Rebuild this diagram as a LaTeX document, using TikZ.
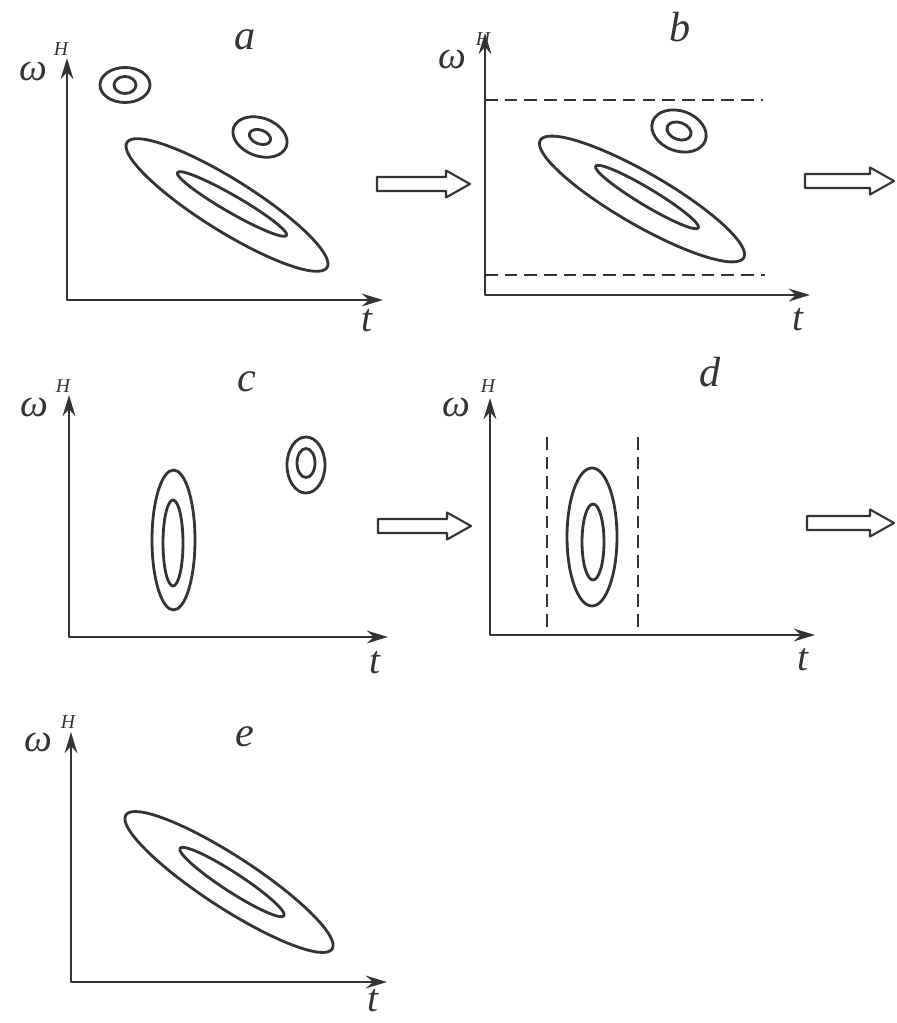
\documentclass[tikz,border=0pt]{standalone}
\usepackage{fontspec}
\setmainfont{Liberation Serif}
\usetikzlibrary{arrows.meta}
\definecolor{ink}{RGB}{52,52,52}

\begin{document}
\begin{tikzpicture}[x=0.025cm, y=-0.025cm, line join=round,
    axes/.style={draw=ink, line width=2pt, {Stealth[length=15pt, width=9pt, inset=5pt]}-{Stealth[length=15pt, width=9pt, inset=5pt]}},
    contour/.style={draw=ink, line width=2pt},
    cutline/.style={draw=ink, line width=1.3pt, dash pattern=on 9pt off 5pt},
    hollow/.style={draw=ink, line width=1.5pt, fill=white},
    paneltag/.style={font=\fontsize{30}{32}\selectfont\itshape, text=ink},
    sym/.style={font=\fontsize{28}{30}\selectfont\itshape, text=ink},
    supr/.style={font=\fontsize{14}{16}\selectfont\itshape, text=ink}]
  \useasboundingbox (0,0) rectangle (896,1023);

  \draw[axes] (67,58) -- (67,300) -- (383,300);
  \node[sym] (wa) at (33,71) {ω};
  \node[supr] (ha) at (61,49) {H};
  \node[sym] (ta) at (367,321) {t};
  \node[paneltag] (la) at (245,40) {a};
  \draw[contour] (125,85) ellipse [x radius=25, y radius=17.5];
  \draw[contour] (125,85) ellipse [x radius=11, y radius=8.5];
  \draw[contour, rotate around={-20:(260,137)}] (260,137) ellipse [x radius=28, y radius=19];
  \draw[contour, rotate around={-20:(260,137)}] (260,137) ellipse [x radius=11, y radius=7];
  \draw[contour, rotate around={-32:(227,205)}] (227,205) ellipse [x radius=118, y radius=26];
  \draw[contour, rotate around={-30:(232,204)}] (232,204) ellipse [x radius=63, y radius=8.5];

  \draw[axes] (485,33) -- (485,295) -- (810,295);
  \node[sym] (wb) at (452,59) {ω};
  \node[supr] (hb) at (483,39) {H};
  \node[sym] (tb) at (798,320) {t};
  \node[paneltag] (lb) at (680,27) {b};
  \draw[cutline] (485,100) -- (763,100);
  \draw[cutline] (485,275) -- (765,275);
  \draw[contour, rotate around={-20:(679,131)}] (679,131) ellipse [x radius=28, y radius=20];
  \draw[contour, rotate around={-20:(679,131)}] (679,131) ellipse [x radius=12.5, y radius=8.5];
  \draw[contour, rotate around={-30:(642,199)}] (642,199) ellipse [x radius=117.5, y radius=26];
  \draw[contour, rotate around={-31:(647,197)}] (647,197) ellipse [x radius=60, y radius=8.5];

  \draw[axes] (69,395) -- (69,637) -- (388,637);
  \node[sym] (wc) at (34,407) {ω};
  \node[supr] (hc) at (63,386) {H};
  \node[sym] (tc) at (375,663) {t};
  \node[paneltag] (lc) at (247,382) {c};
  \draw[contour] (173.5,540) ellipse [x radius=21.5, y radius=70];
  \draw[contour] (173,543) ellipse [x radius=10, y radius=43];
  \draw[contour] (306,465) ellipse [x radius=19, y radius=28];
  \draw[contour] (306,463) ellipse [x radius=9, y radius=14.5];

  \draw[axes] (490,398) -- (490,635) -- (815,635);
  \node[sym] (wd) at (456,407) {ω};
  \node[supr] (hd) at (488,386) {H};
  \node[sym] (td) at (803,660) {t};
  \node[paneltag] (ld) at (710,372) {d};
  \draw[cutline] (547,437) -- (547,635);
  \draw[cutline] (638,437) -- (638,635);
  \draw[contour] (592,537) ellipse [x radius=25, y radius=69];
  \draw[contour] (593,542) ellipse [x radius=11, y radius=38];

  \draw[axes] (71,732) -- (71,982) -- (387,982);
  \node[sym] (we) at (38,742) {ω};
  \node[supr] (he) at (68,722) {H};
  \node[sym] (te) at (373,1001) {t};
  \node[paneltag] (le) at (245,737) {e};
  \draw[contour, rotate around={-33:(229,882)}] (229,882) ellipse [x radius=123, y radius=26];
  \draw[contour, rotate around={-33:(232,882)}] (232,882) ellipse [x radius=62, y radius=9.5];

  \foreach \xa/\xb/\ym in {377/470/184, 805/894/181, 378/471/526, 807/894/523}
    \draw[hollow] (\xa,\ym-7) -- (\xb-24,\ym-7) -- (\xb-24,\ym-13.5) -- (\xb,\ym)
      -- (\xb-24,\ym+13.5) -- (\xb-24,\ym+7) -- (\xa,\ym+7) -- cycle;
\end{tikzpicture}
\end{document}
